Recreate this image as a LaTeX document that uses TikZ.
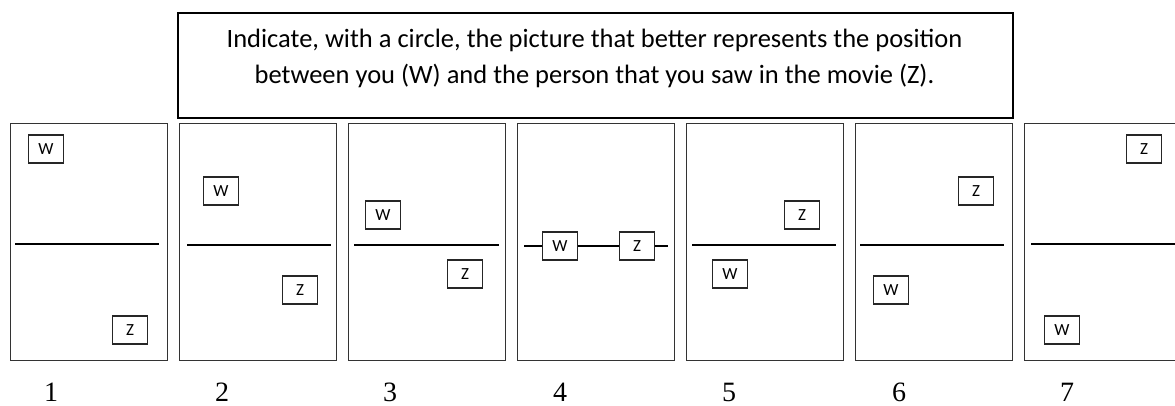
\documentclass[tikz,border=0pt]{standalone}
\usepackage{fontspec}
\setmainfont{Carlito}
\newfontfamily\numfont{Liberation Serif}
\begin{document}
\begin{tikzpicture}[x=1pt,y=-1pt,
  panel/.style={draw=black!80, line width=1.3pt, minimum width=157pt, minimum height=237pt, inner sep=0pt, anchor=north west},
  mark box/.style={draw=black!85, line width=1.2pt, fill=white, minimum width=35pt, minimum height=28pt, inner sep=0pt, font=\fontsize{17}{17}\selectfont},
  divider/.style={draw=black, line width=1.1pt},
  header/.style={draw=black, line width=2pt, minimum width=835pt, minimum height=105pt, inner sep=0pt, anchor=north west},
  num/.style={font=\numfont\fontsize{28}{28}\selectfont, anchor=base}]
\useasboundingbox (0,0) rectangle (1175,405);
\clip (0,0) rectangle (1175,405);

% instruction box
\node[header] (hdr) at (177,12) {};
\node[anchor=base, align=center, font=\fontsize{26.5}{36}\selectfont] (txt) at (594.5,83)
  {Indicate, with a circle, the picture that better represents the position\\
   between you (W) and the person that you saw in the movie (Z).};

% the seven panels
\node[panel] (p1) at (10,123) {};
\node[panel] (p2) at (179,123) {};
\node[panel] (p3) at (348,123) {};
\node[panel] (p4) at (517,123) {};
\node[panel] (p5) at (686,123) {};
\node[panel] (p6) at (855,123) {};
\node[panel] (p7) at (1024,123) {};

% horizon lines
\coordinate (l1a) at (15,244);  \coordinate (l1b) at (159,244);
\coordinate (l2a) at (187,245); \coordinate (l2b) at (331,245);
\coordinate (l3a) at (354,245); \coordinate (l3b) at (499,245);
\coordinate (l4a) at (524,246); \coordinate (l4b) at (668,246);
\coordinate (l5a) at (692,245); \coordinate (l5b) at (836,245);
\coordinate (l6a) at (860,245); \coordinate (l6b) at (1004,245);
\coordinate (l7a) at (1031,244); \coordinate (l7b) at (1180,244);
\draw[divider] (l1a) -- (l1b);
\draw[divider] (l2a) -- (l2b);
\draw[divider] (l3a) -- (l3b);
\draw[divider] (l5a) -- (l5b);
\draw[divider] (l6a) -- (l6b);
\draw[divider] (l7a) -- (l7b);

% W and Z markers
\node[mark box] (w1) at (46,149) {W};
\node[mark box] (z1) at (130,330) {Z};
\node[mark box] (w2) at (221,191) {W};
\node[mark box] (z2) at (300,290) {Z};
\node[mark box] (w3) at (383,215) {W};
\node[mark box] (z3) at (465,274) {Z};
\node[mark box] (w4) at (560,246) {W};
\node[mark box] (z4) at (637,246) {Z};
\node[mark box] (w5) at (730,274) {W};
\node[mark box] (z5) at (802,215) {Z};
\node[mark box] (w6) at (891,290) {W};
\node[mark box] (z6) at (976,191) {Z};
\node[mark box] (w7) at (1062,330) {W};
\node[mark box] (z7) at (1144,149) {Z};

% panel 4: both on the line
\draw[divider] (l4a) -- (w4.west);
\draw[divider] (w4.east) -- (z4.west);
\draw[divider] (z4.east) -- (l4b);

% option numbers
\node[num] (n1) at (51,401) {1};
\node[num] (n2) at (222,401) {2};
\node[num] (n3) at (390,401) {3};
\node[num] (n4) at (560,401) {4};
\node[num] (n5) at (729,401) {5};
\node[num] (n6) at (899,401) {6};
\node[num] (n7) at (1067,401) {7};
\end{tikzpicture}
\end{document}
